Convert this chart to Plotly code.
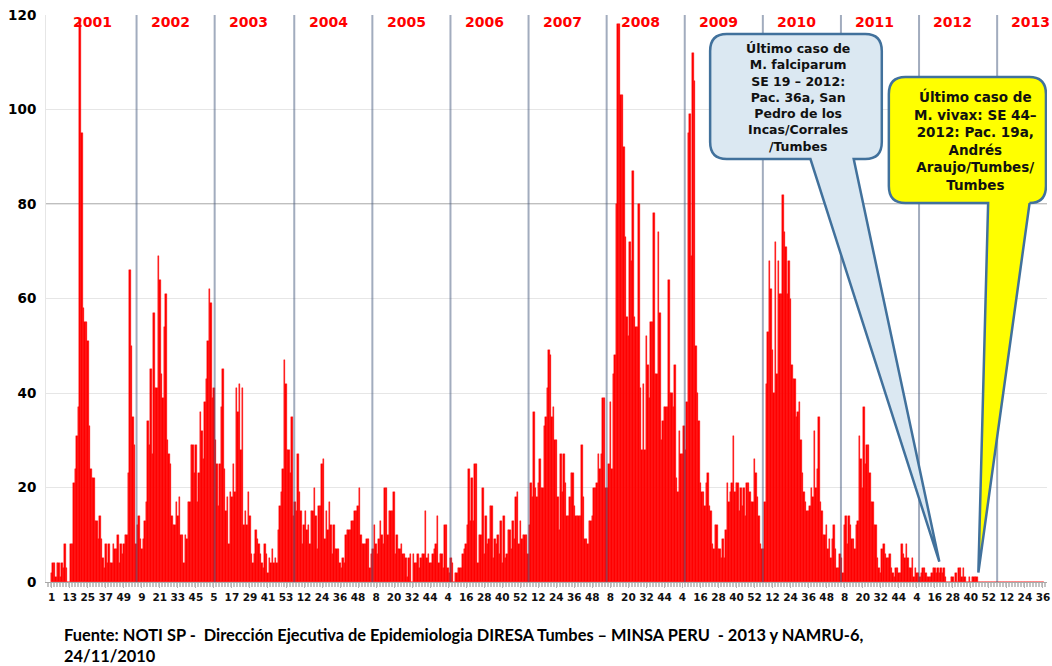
import plotly.graph_objects as go

# Weekly malaria cases, Tumbes (epidemiological weeks)
years = [2001, 2002, 2003, 2004, 2005, 2006, 2007, 2008, 2009, 2010, 2011, 2012, 2013]

cases_2001 = [2, 4, 4, 1, 4, 4, 1, 4, 3, 8, 3, 0, 0, 8, 8, 21, 24, 31, 37, 119,
              95, 58, 55, 55, 51, 33, 24, 22, 22, 13, 13, 9, 14, 9, 5, 3, 8, 4, 8, 4,
              4, 8, 7, 7, 10, 4, 8, 6, 8, 10, 10, 23]
cases_2002 = [66, 50, 35, 29, 8, 12, 14, 9, 7, 9, 13, 17, 34, 29, 45, 27, 57, 41, 41, 69,
              64, 44, 39, 54, 61, 30, 27, 25, 14, 12, 12, 17, 14, 18, 10, 10, 4, 10, 9, 17,
              17, 29, 29, 23, 29, 17, 23, 36, 32, 26, 38, 43]
cases_2003 = [51, 62, 59, 39, 41, 30, 25, 16, 25, 37, 45, 24, 15, 18, 8, 19, 18, 25, 19, 41,
              36, 42, 28, 41, 12, 15, 12, 19, 14, 6, 4, 6, 11, 9, 8, 6, 4, 3, 8, 6,
              2, 5, 4, 7, 4, 5, 4, 11, 16, 19, 24, 47, 42]
cases_2004 = [28, 28, 23, 35, 14, 17, 15, 27, 19, 15, 8, 12, 15, 11, 12, 8, 15, 15, 20, 14,
              7, 16, 16, 25, 26, 9, 15, 11, 17, 12, 6, 12, 7, 7, 7, 4, 3, 5, 4, 10,
              11, 11, 11, 13, 13, 15, 15, 16, 20, 10, 8, 8]
cases_2005 = [8, 9, 9, 3, 6, 7, 12, 8, 6, 9, 13, 10, 8, 20, 20, 10, 15, 15, 15, 19,
              6, 10, 7, 7, 8, 6, 6, 5, 1, 5, 6, 0, 6, 4, 4, 6, 3, 5, 6, 6,
              15, 5, 6, 4, 4, 6, 7, 8, 14, 4, 6, 6]
cases_2006 = [3, 12, 12, 3, 2, 5, 4, 0, 2, 2, 3, 3, 3, 6, 7, 8, 12, 24, 13, 22,
              13, 25, 25, 4, 10, 10, 20, 6, 14, 8, 9, 16, 16, 5, 9, 8, 10, 6, 13, 4,
              14, 5, 6, 11, 11, 7, 13, 9, 18, 19, 8, 13]
cases_2007 = [9, 10, 10, 10, 6, 12, 21, 18, 36, 20, 18, 21, 26, 20, 20, 33, 35, 41, 49, 48,
              35, 37, 30, 30, 18, 11, 27, 19, 27, 21, 14, 14, 18, 23, 23, 16, 14, 14, 14, 14,
              29, 18, 9, 9, 8, 13, 13, 14, 20, 20, 21, 27]
cases_2008 = [24, 27, 39, 39, 20, 20, 25, 38, 24, 44, 48, 80, 118, 118, 103, 103, 92, 73, 56, 52,
              72, 68, 87, 56, 54, 54, 80, 41, 28, 42, 28, 52, 46, 39, 55, 55, 78, 44, 44, 74,
              57, 30, 34, 37, 37, 37, 64, 40, 40, 37, 46, 22]
cases_2009 = [19, 32, 27, 27, 33, 28, 38, 95, 99, 69, 112, 106, 50, 40, 34, 21, 19, 19, 16, 21,
              23, 16, 15, 8, 7, 12, 12, 7, 7, 5, 9, 5, 11, 21, 17, 19, 21, 31, 19, 21,
              21, 15, 20, 16, 20, 14, 21, 21, 19, 17, 17, 26]
cases_2010 = [23, 18, 14, 8, 7, 7, 17, 42, 53, 68, 62, 49, 40, 72, 44, 68, 61, 61, 82, 74,
              71, 61, 68, 60, 46, 43, 43, 35, 36, 38, 30, 23, 19, 17, 15, 15, 16, 20, 18, 32,
              20, 24, 35, 17, 15, 10, 10, 12, 7, 9, 5, 9]
cases_2011 = [12, 7, 3, 3, 6, 5, 2, 12, 14, 8, 14, 12, 9, 9, 7, 12, 13, 31, 26, 20,
              37, 25, 29, 29, 23, 17, 17, 12, 12, 5, 3, 2, 7, 8, 6, 5, 5, 6, 3, 2,
              1, 3, 3, 2, 2, 8, 6, 5, 8, 5, 3, 3]
cases_2012 = [5, 1, 3, 2, 2, 1, 2, 3, 3, 2, 1, 1, 1, 2, 3, 3, 2, 3, 2, 3,
              2, 3, 1, 0, 0, 0, 1, 1, 0, 2, 0, 3, 3, 1, 3, 1, 0, 0, 1, 0,
              1, 1, 1, 1, 0, 0, 0, 0, 0, 0, 0, 0]
cases_2013 = [0] * 36

cases_by_year = [cases_2001, cases_2002, cases_2003, cases_2004, cases_2005, cases_2006,
                 cases_2007, cases_2008, cases_2009, cases_2010, cases_2011, cases_2012,
                 cases_2013]

y_ticks = [0, 20, 40, 60, 80, 100, 120]
tick_step = 12

falciparum_text = ("Último caso de<br>M. falciparum<br>SE 19 – 2012:<br>Pac. 36a, San<br>"
                   "Pedro de los<br>Incas/Corrales<br>/Tumbes")
vivax_text = ("Último caso de<br>M. vivax: SE 44–<br>2012: Pac. 19a,<br>Andrés<br>"
              "Araujo/Tumbes/<br>Tumbes")
source_text = ("Fuente: NOTI SP -  Dirección Ejecutiva de Epidemiologia DIRESA Tumbes – "
               "MINSA PERU  - 2013 y NAMRU-6,<br>24/11/2010")

# ---- flatten weeks onto one continuous index ----
week_idx, week_num, values, year_start = [], [], [], {}
pos = 0
for yr, vals in zip(years, cases_by_year):
    year_start[yr] = pos
    for w, v in enumerate(vals, start=1):
        week_idx.append(pos)
        week_num.append(w)
        values.append(v)
        pos += 1

tick_vals = week_idx[::tick_step]
tick_text = [str(week_num[i]) for i in tick_vals]

RED = "#FF0000"
EDGE = "#41719C"
BOLD = dict(family="DejaVu Sans", weight="bold")

fig = go.Figure()
fig.add_trace(go.Bar(x=week_idx, y=values, marker=dict(color=RED, line=dict(width=0.4, color=RED)),
                     hoverinfo="x+y"))

shapes = []
# darker reference lines at 60 and 80
for g in (60, 80):
    shapes.append(dict(type="line", xref="paper", yref="y", x0=0, x1=1, y0=g, y1=g,
                       line=dict(color="#7f7f7f", width=1), layer="below"))
# year separators
for yr in years[1:]:
    xv = year_start[yr] + 4.5
    shapes.append(dict(type="line", xref="x", yref="y", x0=xv, x1=xv, y0=0, y1=120,
                       line=dict(color="rgba(70,90,125,0.5)", width=2), layer="above"))


def callout(x0, x1, ytop, ybot, xa, xb, tipx, tipy, rx, ry):
    return (f"M {x0+rx},{ytop} L {x1-rx},{ytop} Q {x1},{ytop} {x1},{ytop-ry} "
            f"L {x1},{ybot+ry} Q {x1},{ybot} {x1-rx},{ybot} L {xb},{ybot} "
            f"L {tipx},{tipy} L {xa},{ybot} L {x0+rx},{ybot} Q {x0},{ybot} {x0},{ybot+ry} "
            f"L {x0},{ytop-ry} Q {x0},{ytop} {x0+rx},{ytop} Z")


pf_week = year_start[2012] + 18   # SE 19 - 2012
pv_week = year_start[2012] + 43   # SE 44 - 2012

shapes.append(dict(type="path", xref="x", yref="y",
                   path=callout(438.4, 552.7, 116.0, 89.5, 505.2, 534.0, pf_week, 4.3, 11, 3.6),
                   fillcolor="#DBE8F2", line=dict(color=EDGE, width=2.5), layer="above"))
shapes.append(dict(type="path", xref="x", yref="y",
                   path=callout(557.4, 662.0, 106.9, 80.2, 623.5, 651.1, pv_week + 1, 2.0, 11, 3.6),
                   fillcolor="#FFFF00", line=dict(color=EDGE, width=2.5), layer="above"))

annotations = []
for yr in years:
    annotations.append(dict(x=year_start[yr] + 27, y=118.6, xref="x", yref="y",
                            text=str(yr), showarrow=False, xanchor="center", yanchor="middle",
                            font=dict(size=14, color=RED, **BOLD)))

annotations.append(dict(x=497, y=102.5, xref="x", yref="y", text=falciparum_text,
                        showarrow=False, align="center", xanchor="center", yanchor="middle",
                        font=dict(size=12.5, color="#111111", **BOLD)))
annotations.append(dict(x=615, y=93.4, xref="x", yref="y", text=vivax_text,
                        showarrow=False, align="center", xanchor="center", yanchor="middle",
                        font=dict(size=13.5, color="#111111", **BOLD)))

# footer: position given in pixels, converted to paper units below
L, R, T, B, W, H = 46, 2, 15, 84, 1052, 666
pw, ph = W - L - R, H - T - B
annotations.append(dict(x=(62 - L) / pw, y=(H - B - 644.5) / ph, xref="paper", yref="paper",
                        text=source_text, showarrow=False, align="left",
                        xanchor="left", yanchor="middle",
                        font=dict(size=16.4, color="#000000", family="Lato", weight="bold")))

fig.update_layout(
    width=W, height=H,
    margin=dict(l=L, r=R, t=T, b=B, pad=0),
    paper_bgcolor="white", plot_bgcolor="white",
    bargap=0, showlegend=False,
    shapes=shapes, annotations=annotations,
    xaxis=dict(range=[-3.8, 662.7], tickmode="array", tickvals=tick_vals, ticktext=tick_text,
               tickangle=0, showgrid=False, zeroline=False, ticklabeloverflow="allow",
               showline=True, linecolor="#a8a8a8", linewidth=1,
               ticks="outside", ticklen=5, tickcolor="#b5b5b5", tickwidth=1,
               minor=dict(dtick=1, tick0=0, ticks="outside", ticklen=4,
                          tickcolor="#c4c4c4", tickwidth=1, showgrid=False),
               tickfont=dict(size=10.5, color="#111111", **BOLD)),
    yaxis=dict(range=[0, 120], tickmode="array", tickvals=y_ticks,
               showgrid=True, gridcolor="#e6e6e6", gridwidth=1, zeroline=False,
               showline=True, linecolor="#e6e6e6",
               ticks="outside", ticklen=6, tickcolor="rgba(0,0,0,0)",
               tickfont=dict(size=13.5, color="#000000", **BOLD)),
)

fig.write_html("out.html")
